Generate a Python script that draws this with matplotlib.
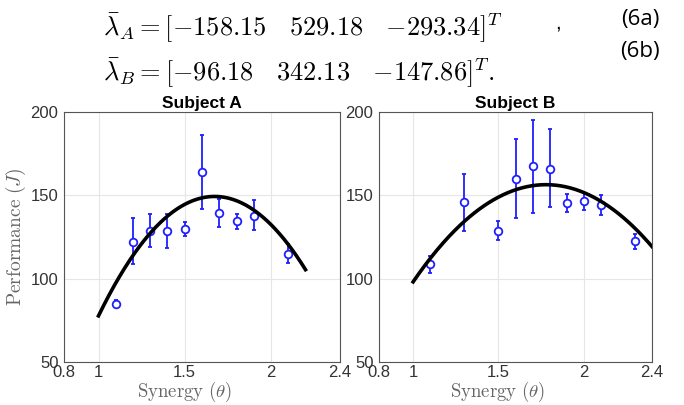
import numpy as np
import matplotlib
matplotlib.use("Agg")
from matplotlib import pyplot as plt

plt.rcParams['mathtext.fontset'] = 'cm'
plt.rcParams['font.family'] = ['Liberation Sans', 'DejaVu Sans']

# quadratic fit coefficients (theta^2, theta, 1)
lam_A = [-158.15, 529.18, -293.34]
lam_B = [-96.18, 342.13, -147.86]
fit_range_A = (1.0, 2.2)
fit_range_B = (1.0, 2.4)

# subject A : synergy, mean, lower, upper
syn_A = [1.1, 1.2, 1.3, 1.4, 1.5, 1.6, 1.7, 1.8, 1.9, 2.1]
perf_A = [85.1, 122.2, 128.8, 128.4, 129.8, 164.1, 139.2, 134.6, 137.8, 115.0]
low_A = [83.5, 108.8, 119.0, 118.4, 125.8, 141.9, 130.8, 130.0, 129.0, 109.6]
up_A = [87.0, 136.2, 138.6, 138.8, 134.0, 186.4, 148.1, 138.8, 147.3, 120.6]

# subject B
syn_B = [1.1, 1.3, 1.5, 1.6, 1.7, 1.8, 1.9, 2.0, 2.1, 2.3]
perf_B = [108.6, 146.3, 128.8, 159.9, 167.5, 166.1, 145.5, 146.7, 144.3, 122.4]
low_B = [103.2, 128.8, 123.2, 136.4, 139.6, 143.0, 139.8, 141.0, 138.2, 117.8]
up_B = [113.8, 162.9, 134.6, 183.8, 195.2, 189.8, 150.9, 151.7, 150.3, 127.0]

xticks = [0.8, 1, 1.5, 2, 2.4]
xticklabels = ['0.8', '1', '1.5', '2', '2.4']
yticks = [50, 100, 150, 200]

fig = plt.figure(figsize=(6.84, 4.05), dpi=100)

def coef_str(lam):
    # unary minus kept tight to the number
    return r'\quad '.join(r'%.2f' % v if v >= 0 else r'{-}%.2f' % -v for v in lam)

eq_A = r'$\bar{\boldsymbol{\lambda}}_A = [' + coef_str(lam_A) + r']^T$'
eq_B = r'$\bar{\boldsymbol{\lambda}}_B = [' + coef_str(lam_B) + r']^T.$'
fig.text(103/684, 1-28/405, eq_A, fontsize=19, va='center', ha='left')
fig.text(555/684, 1-23/405, ',', fontsize=15, va='center', ha='left')
fig.text(103/684, 1-73/405, eq_B, fontsize=19, va='center', ha='left')
fig.text(640/684, 1-19/405, '(6a)', fontsize=16, va='center', ha='center', family='Open Sans')
fig.text(640/684, 1-51/405, '(6b)', fontsize=16, va='center', ha='center', family='Open Sans')

def draw(ax, lam, rng, syn, perf, low, up, title):
    syn = np.array(syn)
    perf = np.array(perf)
    err = [perf - np.array(low), np.array(up) - perf]
    ax.errorbar(syn, perf, yerr=err, fmt='o', color='#1f1fff', mfc='white',
                mec='#1f1fff', ms=5.5, mew=1.3, elinewidth=1.3, capsize=1.5,
                capthick=1.3, zorder=3)
    th = np.linspace(rng[0], rng[1], 200)
    ax.plot(th, np.polyval(lam, th), color='black', lw=2.6, zorder=4)
    ax.set_xlim(0.8, 2.4)
    ax.set_ylim(50, 200)
    ax.set_xticks(xticks)
    ax.set_xticklabels(xticklabels)
    ax.set_yticks(yticks)
    ax.grid(True, color='#e6e6e6', lw=0.8)
    ax.set_axisbelow(True)
    ax.tick_params(length=0, labelsize=12, labelcolor='#333333')
    ax.tick_params(axis='x', pad=2)
    ax.tick_params(axis='y', pad=4)
    for s in ax.spines.values():
        s.set_color('#555555')
        s.set_linewidth(0.8)
    ax.set_title(title, fontsize=12.5, fontweight='bold', pad=3)
    ax.set_xlabel(r'$\mathrm{Synergy}\ (\theta)$', fontsize=13.5, color='#666666')
    ax.xaxis.set_label_coords(0.434, -0.07)

axA = fig.add_axes([64/684, 1-362/405, 276/684, 250/405])
axB = fig.add_axes([379/684, 1-362/405, 273/684, 250/405])
draw(axA, lam_A, fit_range_A, syn_A, perf_A, low_A, up_A, 'Subject A')
draw(axB, lam_B, fit_range_B, syn_B, perf_B, low_B, up_B, 'Subject B')
axA.set_ylabel(r'$\mathrm{Performance}\ (J)$', fontsize=14, color='#666666', labelpad=2)

fig.savefig('out.png', dpi=100)
